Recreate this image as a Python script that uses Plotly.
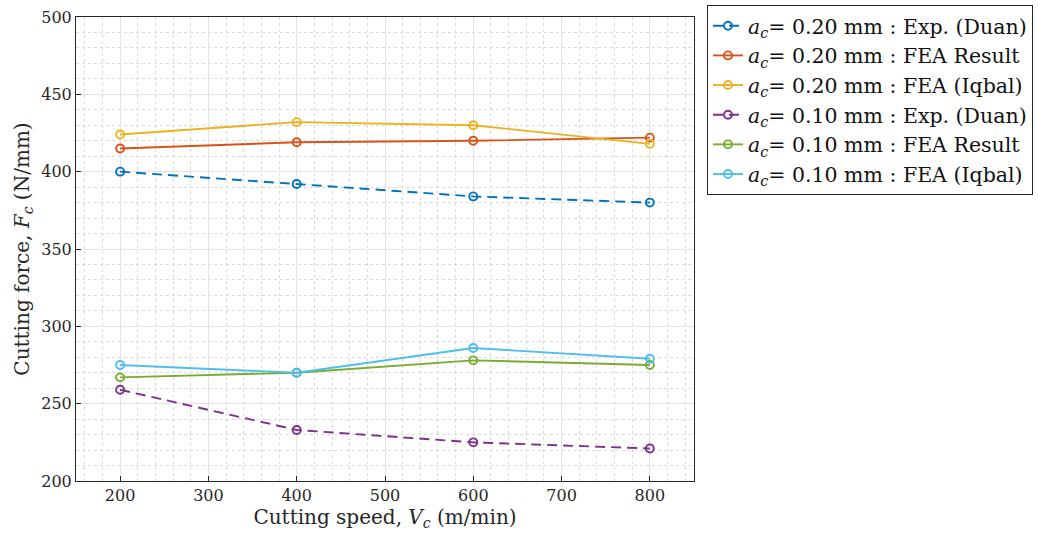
import plotly.graph_objects as go

# Cutting speed (m/min)
speed = [200, 400, 600, 800]

# Cutting force Fc (N/mm) for each case
duan_020 = [400, 392, 384, 380]
fea_020 = [415, 419, 420, 422]
iqbal_020 = [424, 432, 430, 418]
duan_010 = [259, 233, 225, 221]
fea_010 = [267, 270, 278, 275]
iqbal_010 = [275, 270, 286, 279]

ac = "<i>a</i><sub><i>c</i></sub>"
names = [
    f"{ac}= 0.20 mm : Exp. (Duan)",
    f"{ac}= 0.20 mm : FEA Result",
    f"{ac}= 0.20 mm : FEA (Iqbal)",
    f"{ac}= 0.10 mm : Exp. (Duan)",
    f"{ac}= 0.10 mm : FEA Result",
    f"{ac}= 0.10 mm : FEA (Iqbal)",
]
series = [duan_020, fea_020, iqbal_020, duan_010, fea_010, iqbal_010]
colors = ["#0072BD", "#D95319", "#EDB120", "#7E2F8E", "#77AC30", "#4DBEEE"]
dashes = ["10px,6px", "solid", "solid", "10px,6px", "solid", "solid"]

FONT = "DejaVu Serif"
INK = "#262626"

fig = go.Figure()
for name, ys, c, d in zip(names, series, colors, dashes):
    fig.add_trace(go.Scatter(
        x=speed, y=ys, name=name, mode="lines+markers",
        line=dict(color=c, width=1.9, dash=d),
        marker=dict(symbol="circle-open", size=8, color=c, line=dict(width=1.9, color=c)),
    ))

axis_common = dict(
    showline=True, linecolor=INK, linewidth=1, mirror=True,
    ticks="inside", ticklen=5, tickcolor=INK,
    showgrid=True, gridcolor="#e3e3e3", gridwidth=1,
    zeroline=False,
    tickfont=dict(family=FONT, size=16, color=INK),
)

fig.update_xaxes(
    range=[150, 850], tickvals=[200, 300, 400, 500, 600, 700, 800],
    title=dict(text="Cutting speed, <i>V</i><sub><i>c</i></sub> (m/min)",
               font=dict(family=FONT, size=20, color=INK), standoff=2),
    minor=dict(dtick=20, tick0=0, showgrid=True, gridcolor="#dadada", griddash="dot", gridwidth=1, ticks=""),
    **axis_common,
)
fig.update_yaxes(
    range=[200, 500], tickvals=[200, 250, 300, 350, 400, 450, 500],
    title=dict(text="Cutting force, <i>F</i><sub><i>c</i></sub> (N/mm)",
               font=dict(family=FONT, size=20, color=INK), standoff=6),
    minor=dict(dtick=10, tick0=0, showgrid=True, gridcolor="#dadada", griddash="dot", gridwidth=1, ticks=""),
    **axis_common,
)

fig.update_layout(
    width=1038, height=544,
    margin=dict(l=76, r=344, t=17, b=63, autoexpand=False),
    plot_bgcolor="white", paper_bgcolor="white",
    font=dict(family=FONT, size=16, color="#111111"),
    legend=dict(
        x=1.021, y=1.026, xanchor="left", yanchor="top",
        bordercolor=INK, borderwidth=1, bgcolor="white",
        font=dict(family=FONT, size=20.5, color="#111111"),
        itemwidth=30, tracegroupgap=0,
    ),
    showlegend=True,
)

fig.write_html("out.html")
